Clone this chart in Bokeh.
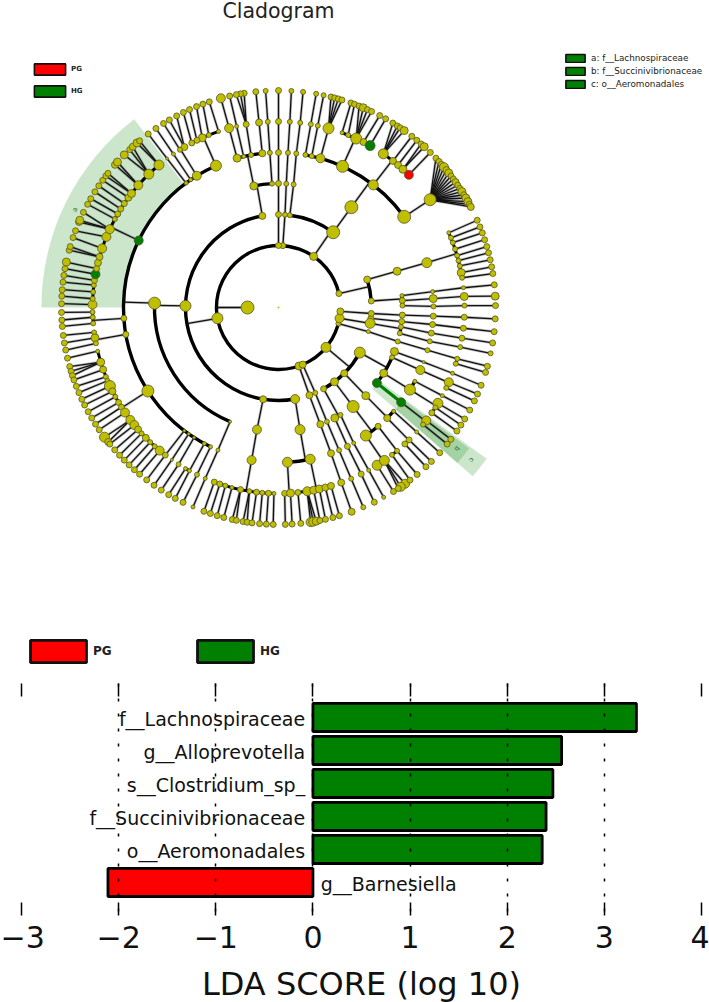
import math
from bokeh.embed import file_html
from bokeh.models import ColumnDataSource, FixedTicker, Legend, LegendItem, LinearAxis, Range1d
from bokeh.plotting import figure
from bokeh.resources import INLINE


def n(angle, size, *kids):
    return (angle, size, kids)


def ch(size, *angles):
    node = None
    for a in reversed(angles):
        node = (a, size, (node,) if node else ())
    return node


# ---- bar chart data
taxa = ["f__Lachnospiraceae", "g__Alloprevotella", "s__Clostridium_sp_",
        "f__Succinivibrionaceae", "o__Aeromonadales", "g__Barnesiella"]
lda = [3.33, 2.56, 2.47, 2.40, 2.36, -2.11]
groups = ["HG", "HG", "HG", "HG", "HG", "PG"]
score_ticks = [-3, -2, -1, 0, 1, 2, 3, 4]

# ---- highlighted clades: label, name, first angle, last angle, first ring, last ring
clade_names = ["a: f__Lachnospiraceae", "b: f__Succinivibrionaceae", "c: o__Aeromonadales"]
clade_letters = ["a", "b", "c"]
clade_from = [127.5, 319.0, 319.0]
clade_to = [180.0, 323.5, 324.0]
clade_ring_in = [5, 5, 4]
clade_ring_out = [7.65, 7.65, 8.3]

# ---- marked nodes (ring, angle)
red_nodes = [(6, 45.5)]
green_nodes = [(6, 60.5), (5, 154.4), (6, 169.7), (4, 322.5), (5, 322.3)]

# ---- cladogram: angle (degrees), node size, children; ring = depth
ph_13 = n(13, 6,
    n(17.5, 7, n(17, 8, n(16.8, 10,
        n(23.7, 4, 23.7), n(22, 5, 21.8), n(20.4, 5, 20.1), n(18.3, 5, 18.2), n(16.2, 5, 16.3),
        n(14.6, 5, 14.6), n(12.9, 5, 12.7), n(10.8, 8, 10.8), n(9.2, 5, 9)))),
    n(4, 6,
        n(5.5, 4, n(5.9, 4, n(6.1, 4, 6))),
        n(3.2, 6, n(3.3, 8, n(3.4, 8, n(3, 8)))),
        n(0.9, 5, n(0.4, 5, n(0.6, 5, 0.5)))))
ph_55 = n(55.5, 8,
    ch(5, 83, 83, 83.4, 83.3, 83.5),
    n(54, 13, n(54, 13,
        ch(5, 80, 80, 80),
        ch(5, 77.6, 77.8, 78),
        n(74.3, 9, n(74.4, 11, 76, 75, 74, 73)),
        n(65.6, 12,
            n(70, 4, 70.5), n(68, 5, 69.5),
            n(65.3, 11, 68.2, n(67, 8), 65.8, 64.6),
            n(62.8, 7, 62.2), n(60.5, 10, 60.4)),
        n(52.3, 10,
            n(55.7, 10, 58.2, 56.8, 55.9, n(54.6, 8)),
            n(52, 7, 52.1), n(50, 7, 50.4),
            n(48, 8, 48.9, n(47.8, 8)),
            n(45.5, 9, 45.6)),
        n(35.8, 13, n(35.4, 12,
            43.5, 42.3, 41.3, n(40.3, 9), n(39.3, 7), n(38.3, 8), 37.3, 36.3, n(35.3, 7), 34.3, 33.3,
            n(32.3, 8), 31.3, n(30.3, 8), n(29.2, 8), 28.4, n(27.6, 7))))))
ph_86 = n(86, 6, ch(5, 86, 86.4, 86.5, 86.5, 86.6))
ph_90 = n(90, 6, ch(6, 90, 90, 90, 90, 90))
ph_190 = n(190, 11,
    n(100, 7,
        n(93, 5, ch(5, 93.2, 93.3, 93.4)),
        n(101.5, 8,
            n(96, 7, n(96, 7, 96)),
            n(100.2, 5, n(100, 6, 99.1, 100.1, 101.2)),
            n(103, 4, n(103, 4, 103)),
            n(105.5, 8, n(105.4, 9, n(105.4, 9))))),
    n(179, 11, n(178, 12,
        n(113.8, 11,
            n(108.8, 4, 108.6), n(112, 5, 110.4), n(114.2, 8, 112.2), n(116, 6, 114.2), n(117.8, 6, 116)),
        n(121.8, 9, n(120.4, 7, 118, 120.2), n(122, 5, 122)),
        n(124.5, 4, n(124.4, 4, 124.4)),
        n(126.6, 4, n(126.8, 3, 126.9)),
        n(154.4, 9,
            n(179.1, 9, 179), n(177.3, 5, 177), n(175.2, 5, 175.3), n(173.1, 5, 173.3), n(171.6, 6, 171.5),
            n(169.7, 9, 169.7), n(167.9, 6, n(167.9, 8)), n(166.1, 7), n(164.2, 7, 164.7, 163.7),
            n(161.5, 9, 161.2), n(157.7, 9, 159.3),
            n(155.1, 9, n(156.8, 7), n(156.3, 8), 154),
            n(151.6, 5, 151.6), n(149.8, 6, 149.9), n(148, 6, 147.8), n(146, 6, 145.9), n(143.8, 7, 144.1),
            n(142.2, 8, 142.7, 141.8),
            n(138.9, 9, n(138.9, 7), n(137.9, 8)),
            n(134.2, 10, n(135.3, 8), 133.3, n(132.2, 7)),
            n(130, 10, n(130.7, 8), 129.8)),
        n(184, 6, n(181.4, 5, 181.3), n(183, 5, 183.3), n(184.9, 5, 185)),
        n(190, 6, n(187.7, 5, 187.4), n(189.4, 8, 189.4), n(191.1, 5, 191.3)),
        n(212.6, 12,
            n(193.6, 4, 193.5), n(197.1, 8, 195.8, 197.1, 198.3), n(199.5, 7, 199.5), n(201.9, 5, 201.3),
            n(203.2, 5, 203.1), n(205, 11, 205), n(206.8, 7, 206.7), n(208.7, 5, 208.7), n(210.7, 6, 210.6),
            n(212.4, 6, 212.5), n(214.4, 9, 214.3), n(217.2, 9, n(216.7, 10), n(218.3, 7)),
            n(219.2, 9, 219), n(221, 7, 221), n(222.6, 5, 222.9), n(224.5, 7, 224.7),
            n(226.4, 5, 226.5), n(228.3, 5, 228.4), n(230.3, 9, 230.2)),
        n(232.6, 3, n(232.5, 6, 232.6)),
        n(234.6, 3, n(235, 3, 235)),
        n(237, 3, n(237.5, 5, 237.3)),
        n(241.4, 4, n(240, 4, 239.6), n(241.4, 4, 241.6)),
        n(244, 4, n(244, 5, 243.9))),
        n(247, 3, ch(4, 247, 246.8, 246.8))),
    n(260.5, 7, n(260, 9, n(260, 9,
        n(249.8, 6, 249.9), n(251.6, 6, 251.7), n(253.4, 5, 253.6), n(255.5, 4, 255.4),
        n(258.2, 6, 257.7, 258.8), n(261, 5, 260.6, 261.7), n(263.2, 6, 263), n(265, 5, 265),
        n(266.9, 6, 266.8), n(268.6, 4, 268.6)))),
    n(280.3, 9, n(280, 10,
        n(273.3, 10, n(271.9, 6, 271.8), n(273.7, 8, 273.6)),
        n(281.8, 10,
            n(276, 6, 275.9), n(278.9, 9, n(278.5, 9), n(279.2, 9), n(280, 8)),
            n(280.9, 8, 281), n(282.7, 8, 282.5), n(284.6, 7, 284.5), n(286.4, 7, 286.3)))))
ph_289 = n(289.3, 8, ch(7, 289.4, 289.7, 289.8, 289.7, 289.7))
ph_293 = n(293, 7, ch(5, 293.3, 293, 293, 293, 293))
ph_320 = n(320, 10,
    n(299, 6,
        n(297, 8, ch(6, 296.4, 296.4, 296.2)),
        n(300, 5, ch(4, 299, 299, 299))),
    n(307, 8, n(307, 12,
        n(304.3, 11, n(302, 10, 302), n(304.7, 10, n(305.7, 9), n(304.3, 9), 303.5)),
        n(310, 6, n(307.6, 5, 307.3), n(309.6, 5, 309.7)))),
    n(315, 7, n(314.7, 8,
        n(314.5, 7, n(314.6, 6, 314.8), n(312.8, 6, 312.8)),
        n(318, 4, n(318, 4, 318)))),
    n(331, 11,
        n(322.5, 9, n(322.3, 9, n(322.6, 9, 322.6), n(321, 5, 321))),
        n(328, 8,
            n(328, 11, n(329, 10, 329.1), n(327.5, 5, 327.2), n(325.5, 6, 325.3)),
            n(331.6, 4, n(331.7, 4, 331.8))),
        n(336.3, 5, n(336.2, 9, n(336.3, 9, 336.5), n(334.4, 5, 334.5))),
        n(339.2, 8, n(339.4, 3, n(339.3, 4, 339)))))
ph_345 = n(345, 5, n(345, 4, n(344.1, 5, n(344, 5, n(344, 5, 344.3), n(342.4, 5, 342.6)))))
ph_350 = n(350, 9,
    ch(6, 353.3, 353.5, 353.7, 353.6, 353.6),
    n(350.2, 10,
        n(351, 5, ch(6, 350.5, 350.5, 350.6)),
        n(348, 5, ch(5, 347.4, 347.7, 347.8))))
ph_356 = n(356.4, 7, ch(6, 356.3, 356.5, 356.8, 357, 357))
root_node = (180, 13, (ph_13, ph_55, ph_86, ph_90, ph_190, ph_289, ph_293, ph_320, ph_345, ph_350, ph_356))

RING = 31.0        # px per taxonomic level
OLIVE, RED, GREEN = "#BFBF00", "#FF0000", "#008000"


def polar(ring, deg):
    t = math.radians(deg)
    return RING * ring * math.cos(t), RING * ring * math.sin(t)


nodes = {"x": [], "y": [], "size": [], "fill": []}
stem = {"x0": [], "y0": [], "x1": [], "y1": []}
arcs = {"r": [], "a0": [], "a1": [], "w": []}


def norm(nd):
    return nd if isinstance(nd, tuple) else (nd, 6, ())


def walk(nd, ring):
    nd = norm(nd)
    a, s, kids = nd[0], nd[1], [norm(k) for k in nd[2]]
    x, y = polar(ring, a)
    fill = RED if (ring, a) in red_nodes else GREEN if (ring, a) in green_nodes else OLIVE
    nodes["x"].append(x); nodes["y"].append(y); nodes["size"].append(s); nodes["fill"].append(fill)
    if kids:
        angs = [k[0] for k in kids]
        lo, hi = min(angs), max(angs)
        targets = angs if ring == 6 else [min(max(a, lo), hi)]
        for t in targets:
            x1, y1 = polar(ring + 1, t)
            stem["x0"].append(x); stem["y0"].append(y); stem["x1"].append(x1); stem["y1"].append(y1)
        if ring < 6 and hi > lo:
            arcs["r"].append(RING * (ring + 1)); arcs["a0"].append(math.radians(lo))
            arcs["a1"].append(math.radians(hi)); arcs["w"].append(3.4 if ring < 5 else 3.0)
    for k in kids:
        walk(k, ring + 1)


walk(root_node, 1)

# ---------------------------------------------------------------- cladogram panel
PW, TH = 709, 675
p = figure(width=PW, height=TH, x_range=Range1d(-278, 431), y_range=Range1d(-368, 307),
           output_backend="svg", toolbar_location=None, min_border=0)
p.axis.visible = False
p.grid.visible = False
p.outline_line_color = None

p.annular_wedge(x=0, y=0,
                inner_radius=[RING * r for r in clade_ring_in],
                outer_radius=[RING * r for r in clade_ring_out],
                start_angle=clade_from, end_angle=clade_to, start_angle_units="deg", end_angle_units="deg",
                fill_color=GREEN, fill_alpha=0.2, line_color=None)
p.text(x=[polar(7.3, 154.3)[0], polar(7.35, 321.7)[0], polar(7.95, 321.7)[0]],
       y=[polar(7.3, 154.3)[1], polar(7.35, 321.7)[1], polar(7.95, 321.7)[1]],
       text=clade_letters, angle=[64, 232, 232], angle_units="deg", text_font_size="7px",
       text_align="center", text_baseline="middle", text_color="#2a6a2a")
stems = ColumnDataSource(stem)
p.segment(x0="x0", y0="y0", x1="x1", y1="y1", line_color="#555555", line_alpha=0.35, line_width=2.8, source=stems)
p.arc(x=0, y=0, radius="r", start_angle="a0", end_angle="a1", line_color="black", line_width="w",
      source=ColumnDataSource(arcs))
p.segment(x0="x0", y0="y0", x1="x1", y1="y1", line_color="#111111", line_width=1.3, source=stems)
# green stretch of the highlighted order
gx0, gy0 = polar(4, 322.5)
gx1, gy1 = polar(5, 322.3)
p.segment(x0=[gx0], y0=[gy0], x1=[gx1], y1=[gy1], line_color=GREEN, line_width=3)
p.scatter(x="x", y="y", size="size", marker="circle", fill_color="fill", line_color="#55552a",
          line_width=0.8, source=ColumnDataSource(nodes))
p.scatter(x=[0], y=[0], size=2, marker="circle", fill_color=OLIVE, line_color=None)
p.text(x=[0], y=[297], text=["Cladogram"], text_font_size="20.5px", text_align="center",
       text_baseline="middle", text_color="#222222", text_font={"value": "DejaVu Sans"})


def swatch(col, lw=1.6):
    return p.rect(x=[float("nan")], y=[float("nan")], width=[1], height=[1], fill_color=col,
                  line_color="#111111", line_width=lw)


r_pg, r_hg = swatch(RED), swatch(GREEN)
p.add_layout(Legend(items=[LegendItem(label="PG", renderers=[r_pg]), LegendItem(label="HG", renderers=[r_hg])],
                    location=(30, TH - 98), orientation="vertical", glyph_width=39, glyph_height=14, label_height=14,
                    label_width=10, spacing=8, padding=0, margin=0, label_standoff=2, label_text_font_size="7px",
                    label_text_font_style="bold", label_text_color="#222222", background_fill_alpha=0,
                    border_line_color=None, label_text_font="DejaVu Sans"))
p.add_layout(Legend(items=[LegendItem(label=c, renderers=[swatch(GREEN)]) for c in clade_names],
                    location=(563, TH - 89), orientation="vertical", glyph_width=24, glyph_height=10, label_height=10,
                    label_width=10, spacing=3, padding=0, margin=0, label_standoff=4, label_text_font_size="8.8px",
                    label_text_color="#222222", background_fill_alpha=0, border_line_color=None,
                    label_text_font="DejaVu Sans"))
r_pg2, r_hg2 = swatch(RED, 2.8), swatch(GREEN, 2.8)
p.add_layout(Legend(items=[LegendItem(label="PG", renderers=[r_pg2]), LegendItem(label="HG", renderers=[r_hg2])],
                    location=(23, TH - 665), orientation="horizontal", glyph_width=70, glyph_height=28, label_height=28,
                    label_width=24, spacing=73, padding=0, margin=0, label_standoff=0, label_text_font_size="12px",
                    label_text_font_style="bold", label_text_color="#222222", background_fill_alpha=0,
                    border_line_color=None, label_text_font="DejaVu Sans"))

# ---------------------------------------------------------------- LDA bars
idx = list(range(len(taxa)))
colors = [GREEN if g == "HG" else RED for g in groups]
b = figure(width=PW, height=327, x_range=Range1d(-3, 4), y_range=Range1d(6.0, -1.03),
           output_backend="svg", toolbar_location=None, frame_width=680, frame_height=232,
           min_border_left=21, min_border_right=8, min_border_top=8, min_border_bottom=87)
b.outline_line_color = None
b.yaxis.visible = False
b.ygrid.visible = False
b.xgrid.ticker = FixedTicker(ticks=score_ticks)
b.xgrid.grid_line_color = "black"
b.xgrid.grid_line_dash = "3 12"
b.xgrid.grid_line_width = 1.5
b.xgrid.level = "overlay"
b.hbar(y=idx, left=0, right=lda, height=0.85, fill_color=colors, line_color="black", line_width=2.8)
b.text(x=[-0.08 if v > 0 else 0.08 for v in lda], y=idx, text=taxa, y_offset=2,
       text_align=["right" if v > 0 else "left" for v in lda], text_baseline="middle",
       text_font_size="19px", text_color="#111111", text_font={"value": "DejaVu Sans"})
xa = b.xaxis[0]
xa.ticker = FixedTicker(ticks=score_ticks)
xa.axis_line_color = None
xa.major_tick_in = 13
xa.major_tick_out = 0
xa.major_tick_line_color = "black"
xa.major_tick_line_width = 1.5
xa.minor_tick_line_color = None
xa.major_label_text_font_size = "30px"
xa.major_label_text_font = "DejaVu Sans"
xa.major_label_text_color = "#111111"
xa.major_label_standoff = 10
xa.axis_label = "LDA SCORE (log 10)"
xa.axis_label_text_font_size = "32px"
xa.axis_label_text_font = "DejaVu Sans"
xa.axis_label_text_font_style = "normal"
xa.axis_label_text_color = "#111111"
xa.axis_label_standoff = 14
top = LinearAxis(ticker=FixedTicker(ticks=score_ticks),
                 major_label_overrides={t: "" for t in score_ticks},
                 axis_line_color=None, major_tick_in=13, major_tick_out=0, minor_tick_line_color=None,
                 major_tick_line_width=1.5, major_label_standoff=0)
b.add_layout(top, "above")

open("out.html", "w").write(file_html([p, b], INLINE))
